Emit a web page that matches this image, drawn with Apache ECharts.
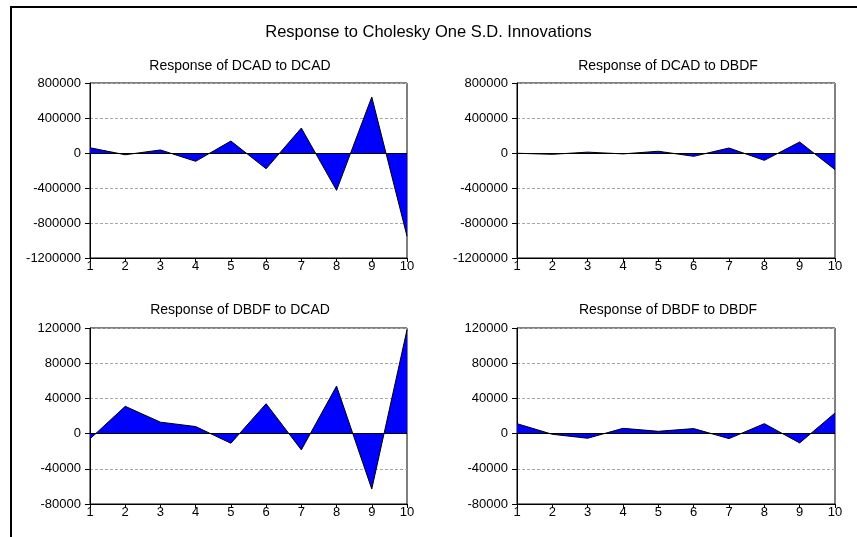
<!DOCTYPE html>
<html>
<head>
<meta charset="utf-8">
<title>Response to Cholesky One S.D. Innovations</title>
<script src="https://cdn.jsdelivr.net/npm/echarts@6/dist/echarts.min.js"></script>
<style>
  html, body { margin: 0; padding: 0; background: #ffffff; }
  #chart { width: 857px; height: 537px; }
</style>
</head>
<body>
<div id="chart"></div>
<script>
// Impulse-response periods
const periods = ['1', '2', '3', '4', '5', '6', '7', '8', '9', '10'];

// Responses of DCAD
const dcadToDcad = [60000, -20000, 35000, -95000, 137000, -180000, 285000, -427000, 640000, -950000];
const dcadToDbdf = [-3000, -15000, 10000, -10000, 20000, -38000, 57000, -84000, 126000, -190000];

// Responses of DBDF
const dbdfToDcad = [-6000, 31000, 13000, 8000, -11000, 34000, -18500, 54000, -63000, 118000];
const dbdfToDbdf = [11300, -800, -5300, 6000, 2600, 5700, -5700, 11300, -10600, 23400];

// Axis scales for each row of panels
const topRowAxis = { min: -1200000, max: 800000, interval: 400000 };
const bottomRowAxis = { min: -80000, max: 120000, interval: 40000 };

const mainTitle = 'Response to Cholesky One S.D. Innovations';
const panelTitles = [
  'Response of DCAD to DCAD',
  'Response of DCAD to DBDF',
  'Response of DBDF to DCAD',
  'Response of DBDF to DBDF'
];

const FONT = '"Liberation Sans", Arial, Helvetica, sans-serif';

const panels = [
  { data: dcadToDcad, axis: topRowAxis, left: 90, top: 83, width: 317, height: 175, titleX: 240, titleY: 59 },
  { data: dcadToDbdf, axis: topRowAxis, left: 517, top: 83, width: 318, height: 175, titleX: 668, titleY: 59 },
  { data: dbdfToDcad, axis: bottomRowAxis, left: 90, top: 328, width: 317, height: 176, titleX: 240, titleY: 303 },
  { data: dbdfToDbdf, axis: bottomRowAxis, left: 517, top: 328, width: 318, height: 176, titleX: 668, titleY: 303 }
];

const grid = [], xAxis = [], yAxis = [], series = [];
const titles = [{
  text: mainTitle,
  left: 'center',
  top: 24,
  padding: 0,
  textStyle: { fontFamily: FONT, fontSize: 16.5, fontWeight: 'normal', color: '#000' }
}];

panels.forEach((p, i) => {
  grid.push({
    left: p.left, top: p.top, width: p.width, height: p.height,
    show: true, borderColor: '#000', borderWidth: 1, backgroundColor: 'transparent'
  });
  titles.push({
    text: panelTitles[i],
    left: p.titleX,
    top: p.titleY,
    textAlign: 'center',
    padding: 0,
    textStyle: { fontFamily: FONT, fontSize: 14, fontWeight: 'normal', color: '#000' }
  });
  xAxis.push({
    type: 'category',
    gridIndex: i,
    data: periods,
    boundaryGap: false,
    axisLine: { onZero: false, lineStyle: { color: '#000', width: 1 } },
    axisTick: { show: true, length: 4, alignWithLabel: true, lineStyle: { color: '#000' } },
    axisLabel: { color: '#000', fontFamily: FONT, fontSize: 13, margin: 2, interval: 0 },
    splitLine: { show: false }
  });
  yAxis.push({
    type: 'value',
    gridIndex: i,
    min: p.axis.min,
    max: p.axis.max,
    interval: p.axis.interval,
    axisLine: { show: true, lineStyle: { color: '#000', width: 1 } },
    axisTick: { show: true, length: 5, lineStyle: { color: '#000' } },
    axisLabel: {
      color: '#000', fontFamily: FONT, fontSize: 13, margin: 9,
      formatter: (v) => String(v)
    },
    splitLine: { show: true, lineStyle: { color: '#a8a8a8', type: [3, 2], width: 1 } }
  });
  series.push({
    type: 'line',
    xAxisIndex: i,
    yAxisIndex: i,
    data: p.data,
    symbol: 'none',
    silent: true,
    animation: false,
    lineStyle: { color: '#000', width: 1 },
    areaStyle: { color: '#0000ff', opacity: 1, origin: 0 },
    markLine: {
      silent: true,
      symbol: 'none',
      label: { show: false },
      lineStyle: { color: '#000', width: 1, type: 'solid' },
      data: [{ yAxis: 0 }]
    },
    z: 3
  });
});

const chart = echarts.init(document.getElementById('chart'), null, { renderer: 'canvas' });
chart.setOption({
  backgroundColor: '#ffffff',
  animation: false,
  title: titles,
  grid: grid,
  xAxis: xAxis,
  yAxis: yAxis,
  series: series,
  graphic: [{
    // outer frame around the whole figure
    type: 'rect',
    silent: true,
    shape: { x: 11, y: 7, width: 900, height: 600 },
    style: { fill: 'none', stroke: '#000', lineWidth: 2 }
  }]
});
</script>
</body>
</html>
